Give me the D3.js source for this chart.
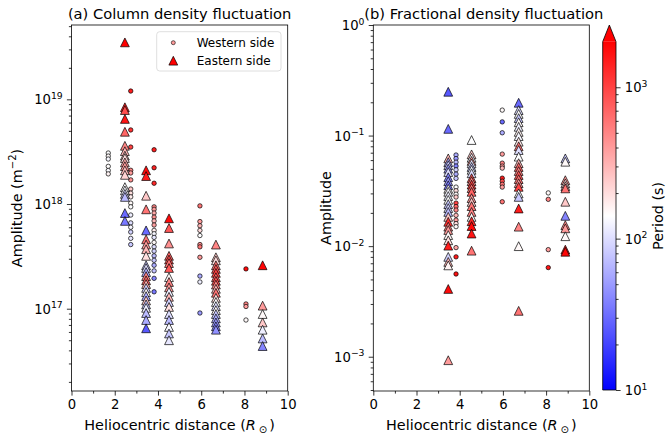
<!DOCTYPE html>
<html>
<head>
<meta charset="utf-8">
<script src="https://cdn.jsdelivr.net/npm/d3@7"></script>
<style>
  body { margin: 0; background: #fff; }
  svg { display: block; font-family: "DejaVu Sans", sans-serif; }
</style>
</head>
<body>
<svg id="chart"></svg>
<script>
// ---- data ----
// (a) column density, western side (circles)
const colWestR = [1.70, 2.74, 3.82, 5.94, 8.07];
const colWestAmp = [
  [3.07e18, 2.87e18, 2.69e18, 2.29e18, 2.09e18, 1.94e18],
  [1.2e19, 5.1e18, 3.5e18, 2.1e18, 1.98e18, 1.7e18, 1.39e18, 1.27e18, 1.17e18, 1.02e18, 9.4e17, 7.85e17, 6.6e17, 6.0e17, 5.4e17, 4.7e17, 4.1e17],
  [3.3e18, 2.22e18, 1.58e18, 9.4e17, 8.9e17, 8.2e17, 7.5e17, 6.9e17, 6.3e17, 5.6e17, 5.2e17, 4.8e17, 4.3e17, 3.9e17, 3.55e17, 3.2e17, 2.9e17, 2.6e17, 2.3e17, 1.95e17, 1.45e17],
  [9.6e17, 6.8e17, 6.2e17, 5.6e17, 5.0e17, 4.1e17, 3.9e17, 3.1e17, 2.05e17, 1.8e17, 9.1e16],
  [2.4e17, 1.11e17, 1.05e17, 7.8e16]
];
const colWestPeriod = [
  [140, 150, 130, 145, 135, 160],
  [1500, 1200, 1000, 500, 400, 450, 250, 200, 170, 150, 140, 120, 100, 130, 90, 110, 80],
  [1500, 1400, 1300, 500, 400, 350, 450, 300, 380, 170, 130, 110, 150, 100, 90, 70, 80, 60, 75, 40, 35],
  [600, 400, 300, 200, 140, 450, 600, 400, 60, 120, 50],
  [1800, 500, 400, 150]
];
// (a) column density, eastern side (triangles)
const colEastR = [2.47, 3.45, 4.51, 6.68, 8.84];
const colEastAmp = [
  [3.5e19, 8.4e18, 7.9e18, 6.5e18, 4.9e18, 3.6e18, 3.2e18, 2.9e18, 2.75e18, 2.5e18, 2.3e18, 2.1e18, 1.9e18, 1.45e18, 1.35e18, 1.25e18, 1.17e18, 8.2e17, 6.9e17],
  [2.1e18, 1.85e18, 1.2e18, 8.9e17, 5.6e17, 4.6e17, 4.1e17, 3.7e17, 3.2e17, 2.6e17, 2.45e17, 2.24e17, 2.05e17, 1.87e17, 1.72e17, 1.58e17, 1.44e17, 1.32e17, 1.2e17, 1.1e17, 1.02e17, 9.1e16, 7.8e16, 6.5e16],
  [7.3e17, 5.9e17, 4.2e17, 3.2e17, 2.95e17, 2.73e17, 2.45e17, 2.0e17, 1.8e17, 1.6e17, 1.45e17, 1.3e17, 1.16e17, 1.04e17, 8.9e16, 7.8e16, 6.7e16, 5.8e16, 5.0e16],
  [4.1e17, 3.1e17, 2.9e17, 2.6e17, 2.4e17, 2.2e17, 2.0e17, 1.85e17, 1.7e17, 1.55e17, 1.42e17, 1.27e17, 1.16e17, 1.06e17, 9.7e16, 8.9e16, 8.1e16, 7.4e16, 6.8e16, 6.3e16],
  [2.6e17, 1.07e17, 8.9e16, 7.4e16, 6.3e16, 5.2e16, 4.4e16]
];
const colEastPeriod = [
  [2000, 1500, 900, 1600, 700, 500, 300, 250, 200, 350, 400, 280, 220, 140, 130, 90, 70, 30, 35],
  [1800, 1500, 250, 600, 30, 600, 400, 300, 200, 80, 100, 60, 500, 700, 300, 90, 150, 60, 250, 80, 120, 70, 60, 25],
  [1800, 800, 450, 700, 900, 600, 800, 150, 500, 400, 120, 300, 90, 200, 100, 70, 130, 80, 110],
  [500, 250, 200, 600, 800, 1000, 700, 900, 500, 300, 600, 200, 140, 100, 150, 80, 60, 50, 40, 45],
  [1900, 400, 150, 250, 120, 70, 40]
];
// (b) fractional density, western side (circles)
const fracWestR = [3.83, 5.97, 8.10];
const fracWestAmp = [
  [0.0667, 0.062, 0.0575, 0.053, 0.049, 0.0448, 0.041, 0.0342, 0.0317, 0.0295, 0.0278, 0.0245, 0.0228, 0.0212, 0.019, 0.0172, 0.016, 0.015, 0.0097, 0.008, 0.0056],
  [0.170, 0.133, 0.106, 0.068, 0.0563, 0.053, 0.0508, 0.0412, 0.0387, 0.0363, 0.0342, 0.0252],
  [0.0303, 0.0265, 0.0093, 0.0064]
];
const fracWestPeriod = [
  [60, 50, 70, 40, 90, 60, 80, 140, 200, 150, 250, 1000, 700, 500, 300, 400, 200, 150, 350, 1500, 1700],
  [150, 30, 60, 400, 500, 400, 300, 1500, 900, 600, 400, 600],
  [150, 500, 400, 1600]
];
// (b) fractional density, eastern side (triangles)
const fracEastR = [3.47, 4.55, 6.73, 8.89];
const fracEastAmp = [
  [0.249, 0.115, 0.0622, 0.0575, 0.054, 0.0502, 0.0468, 0.042, 0.0387, 0.0356, 0.033, 0.031, 0.0284, 0.0262, 0.024, 0.0221, 0.0204, 0.0184, 0.0166, 0.015, 0.014, 0.0126, 0.0113, 0.0101, 0.008, 0.0072, 0.0067, 0.0041, 0.00093],
  [0.0912, 0.0676, 0.063, 0.059, 0.056, 0.052, 0.049, 0.0456, 0.0412, 0.0387, 0.036, 0.0335, 0.031, 0.0272, 0.0251, 0.023, 0.0204, 0.0184, 0.0168, 0.0152, 0.013, 0.0091],
  [0.198, 0.170, 0.157, 0.144, 0.132, 0.120, 0.108, 0.099, 0.088, 0.080, 0.074, 0.0645, 0.0563, 0.052, 0.0478, 0.044, 0.0404, 0.0371, 0.0344, 0.030, 0.0279, 0.0219, 0.015, 0.010, 0.0026],
  [0.0622, 0.058, 0.0395, 0.037, 0.0349, 0.0333, 0.0252, 0.0188, 0.0155, 0.0145, 0.0123, 0.0093, 0.0089]
];
const fracEastPeriod = [
  [25, 30, 300, 60, 80, 50, 100, 40, 50, 35, 150, 130, 120, 140, 80, 90, 70, 250, 1200, 500, 400, 150, 200, 1500, 90, 300, 160, 1800, 400],
  [140, 250, 130, 400, 110, 80, 130, 100, 800, 500, 1000, 600, 700, 400, 250, 600, 500, 150, 1300, 1800, 1600, 600],
  [30, 100, 140, 80, 150, 120, 160, 130, 180, 600, 100, 140, 300, 700, 500, 800, 600, 400, 1000, 140, 80, 1500, 500, 150, 600],
  [80, 150, 400, 200, 300, 600, 250, 40, 500, 400, 150, 1500, 1900]
];
const xTicks = [0, 2, 4, 6, 8, 10];
const xMinor = [1, 3, 5, 7, 9];
const periodRange = [10, 2000];

// ---- layout ----
const width = 666, height = 441;
const plotTop = 25, plotBottom = 391;
const tickFs = 13.2, labelFs = 14.4;

const svg = d3.select("#chart").attr("width", width).attr("height", height);

const tcol = d3.scaleLog().domain(periodRange).range([0, 1]).clamp(true);
const bwr = d3.scaleLinear().domain([0, 0.5, 1]).range(["#0000ff", "#ffffff", "#ff0000"]);
const color = p => bwr(tcol(p));

const triPath = s => `M0,${-s / 2}L${s / 2},${s / 2}L${-s / 2},${s / 2}Z`;

function flatten(rs, amps, pers) {
  const out = [];
  rs.forEach((r, i) => amps[i].forEach((a, j) => out.push({ r, a, p: pers[i][j] })));
  return out;
}

function sup(sel, base, exp, fs) {
  sel.append("tspan").text(base);
  sel.append("tspan").attr("font-size", fs * 0.7).attr("dy", -fs * 0.42).text(exp);
}

function minorLog(lo, hi) {
  const out = [];
  for (let e = Math.floor(Math.log10(lo)); e <= Math.ceil(Math.log10(hi)); e++)
    for (let m = 2; m <= 9; m++) {
      const v = m * Math.pow(10, e);
      if (v >= lo && v <= hi) out.push(v);
    }
  return out;
}

function drawPanel(p) {
  const g = svg.append("g");
  const x = d3.scaleLinear().domain([0, 10]).range([p.left, p.right]);
  const y = d3.scaleLog().domain(p.yDomain).range([plotBottom, plotTop]);

  g.append("g")
    .selectAll("circle")
    .data(p.west)
    .join("circle")
    .attr("cx", d => x(d.r))
    .attr("cy", d => y(d.a))
    .attr("r", 2.2)
    .attr("fill", d => color(d.p))
    .attr("stroke", "#000")
    .attr("stroke-width", 0.7);

  g.append("g")
    .selectAll("path")
    .data(p.east)
    .join("path")
    .attr("transform", d => `translate(${x(d.r)},${y(d.a)})`)
    .attr("d", triPath(8.8))
    .attr("fill", d => color(d.p))
    .attr("stroke", "#000")
    .attr("stroke-width", 0.7);

  // x axis
  const gx = g.append("g").attr("transform", `translate(0,${plotBottom})`)
    .call(d3.axisBottom(x).tickValues(xTicks).tickSize(4.6).tickPadding(4.2).tickFormat(d3.format("d")));
  gx.append("g").call(d3.axisBottom(x).tickValues(xMinor).tickSize(2.6).tickFormat(""));
  gx.selectAll(".domain").remove();
  gx.attr("font-size", tickFs).attr("font-family", null);
  gx.selectAll("line").attr("stroke", "#000").attr("stroke-width", 0.8);
  gx.selectAll("text").attr("fill", "#000");

  // y axis
  const [lo, hi] = p.yDomain;
  const majors = p.yMajor;
  const gy = g.append("g").attr("transform", `translate(${p.left},0)`)
    .call(d3.axisLeft(y).tickValues(majors).tickSize(4.6).tickPadding(4.2).tickFormat(""));
  gy.append("g").call(d3.axisLeft(y).tickValues(minorLog(lo, hi)).tickSize(2.6).tickFormat(""));
  gy.selectAll(".domain").remove();
  gy.attr("font-size", tickFs).attr("font-family", null);
  gy.selectAll("line").attr("stroke", "#000").attr("stroke-width", 0.8);
  gy.selectAll(".tick text").each(function (d) {
    if (majors.indexOf(d) < 0) return;
    const e = Math.round(Math.log10(d));
    d3.select(this).attr("fill", "#000").attr("dy", "0.35em")
      .call(sup, "10", String(e).replace("-", "\u2212"), tickFs);
  });

  // frame
  g.append("rect")
    .attr("x", p.left).attr("y", plotTop)
    .attr("width", p.right - p.left).attr("height", plotBottom - plotTop)
    .attr("fill", "none").attr("stroke", "#000").attr("stroke-width", 0.8);

  // title
  g.append("text")
    .attr("x", (p.left + p.right) / 2 + p.titleShift).attr("y", 19)
    .attr("text-anchor", "middle").attr("font-size", 14.7)
    .text(p.title);

  // x label
  const xl = g.append("text")
    .attr("x", (p.left + p.right) / 2).attr("y", 430)
    .attr("text-anchor", "middle").attr("font-size", labelFs);
  xl.append("tspan").text("Heliocentric distance (");
  xl.append("tspan").attr("font-style", "italic").text("R");
  xl.append("tspan").attr("font-size", labelFs * 0.7).attr("dx", 3).attr("dy", 3).text("\u2299");
  xl.append("tspan").attr("dx", 2).attr("dy", -3).text(")");

  // y label
  const yl = g.append("text")
    .attr("transform", `translate(${p.ylabelX},${(plotTop + plotBottom) / 2}) rotate(-90)`)
    .attr("text-anchor", "middle").attr("font-size", labelFs);
  yl.append("tspan").text(p.ylabel);
  if (p.ylabelUnit) {
    yl.append("tspan").text(" (m");
    yl.append("tspan").attr("font-size", labelFs * 0.7).attr("dy", -labelFs * 0.42).text("\u22122");
    yl.append("tspan").attr("dy", labelFs * 0.42).text(")");
  }
  return g;
}

const gA = drawPanel({
  left: 71.5, right: 287.7,
  yDomain: [Math.pow(10, 16.214), Math.pow(10, 19.71)],
  yMajor: [1e17, 1e18, 1e19],
  west: flatten(colWestR, colWestAmp, colWestPeriod),
  east: flatten(colEastR, colEastAmp, colEastPeriod),
  title: "(a) Column density fluctuation", titleShift: 0,
  ylabel: "Amplitude", ylabelUnit: true, ylabelX: 22
});

drawPanel({
  left: 373.3, right: 589.3,
  yDomain: [Math.pow(10, -3.31), 1],
  yMajor: [1e-3, 1e-2, 1e-1, 1],
  west: flatten(fracWestR, fracWestAmp, fracWestPeriod),
  east: flatten(fracEastR, fracEastAmp, fracEastPeriod),
  title: "(b) Fractional density fluctuation", titleShift: 2.5,
  ylabel: "Amplitude", ylabelUnit: false, ylabelX: 331
});

// legend
const lg = gA.append("g").attr("transform", "translate(156.7,31.7)");
lg.append("rect").attr("width", 124.3).attr("height", 39.3).attr("rx", 3)
  .attr("fill", "#fff").attr("fill-opacity", 0.8).attr("stroke", "#d5d5d5").attr("stroke-width", 0.8);
lg.append("circle").attr("cx", 16.6).attr("cy", 11).attr("r", 2)
  .attr("fill", color(400)).attr("stroke", "#000").attr("stroke-width", 0.6);
lg.append("path").attr("transform", "translate(16.6,29)").attr("d", triPath(8.8))
  .attr("fill", color(2000)).attr("stroke", "#000").attr("stroke-width", 0.7);
lg.append("text").attr("x", 40).attr("y", 15).attr("font-size", 12).text("Western side");
lg.append("text").attr("x", 40).attr("y", 33).attr("font-size", 12).text("Eastern side");

// colorbar
const cbX = 602.7, cbW = 13.3, cbTop = 41.7, cbBottom = 390, cbTip = 25;
const yc = d3.scaleLog().domain(periodRange).range([cbBottom, cbTop]);
const defs = svg.append("defs");
const grad = defs.append("linearGradient").attr("id", "cbgrad")
  .attr("x1", 0).attr("y1", 1).attr("x2", 0).attr("y2", 0);
[0, 0.5, 1].forEach(t => grad.append("stop").attr("offset", t).attr("stop-color", bwr(t)));
svg.append("rect").attr("x", cbX).attr("y", cbTop).attr("width", cbW).attr("height", cbBottom - cbTop)
  .attr("fill", "url(#cbgrad)");
svg.append("path")
  .attr("d", `M${cbX},${cbTop}L${cbX + cbW / 2},${cbTip}L${cbX + cbW},${cbTop}Z`)
  .attr("fill", color(periodRange[1]));
svg.append("path")
  .attr("d", `M${cbX},${cbBottom}L${cbX},${cbTop}L${cbX + cbW / 2},${cbTip}L${cbX + cbW},${cbTop}L${cbX + cbW},${cbBottom}Z`)
  .attr("fill", "none").attr("stroke", "#000").attr("stroke-width", 0.8);

const cbMajor = [10, 100, 1000];
const gc = svg.append("g").attr("transform", `translate(${cbX + cbW},0)`)
  .call(d3.axisRight(yc).tickValues(cbMajor).tickSize(4.6).tickPadding(4.2).tickFormat(""));
gc.append("g").call(d3.axisRight(yc).tickValues(minorLog(10, 1000)).tickSize(2.6).tickFormat(""));
gc.selectAll(".domain").remove();
gc.attr("font-size", tickFs).attr("font-family", null);
gc.selectAll("line").attr("stroke", "#000").attr("stroke-width", 0.8);
gc.selectAll(".tick text").each(function (d) {
  if (cbMajor.indexOf(d) < 0) return;
  d3.select(this).attr("fill", "#000").attr("dy", "0.35em")
    .call(sup, "10", String(Math.round(Math.log10(d))), tickFs);
});
svg.append("text")
  .attr("transform", `translate(663,${(cbTop + cbBottom) / 2}) rotate(-90)`)
  .attr("text-anchor", "middle").attr("font-size", labelFs)
  .text("Period (s)");
</script>
</body>
</html>
